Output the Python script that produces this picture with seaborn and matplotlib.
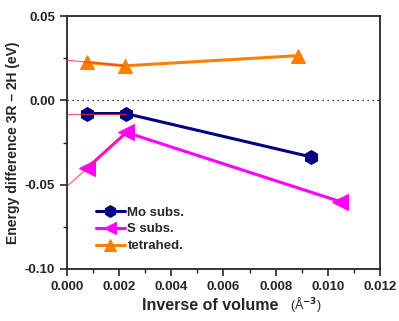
import matplotlib
matplotlib.use("Agg")
import matplotlib.pyplot as plt
import seaborn as sns
import pandas as pd
from matplotlib.ticker import MultipleLocator, FormatStrFormatter

# --- data ---
mo_x = [0.00078, 0.00225, 0.00935]
mo_y = [-0.0078, -0.0078, -0.0335]
s_x = [0.00078, 0.00228, 0.01047]
s_y = [-0.0400, -0.0190, -0.0600]
tet_x = [0.00078, 0.00222, 0.00885]
tet_y = [0.0225, 0.0205, 0.0265]
# thin red extrapolations to x = 0 (through the first two points)
fit_x0 = [0.0, 0.0, 0.0]
fit_y0 = [-0.0078, -0.0510, 0.0238]

series = [
    ("Mo subs.", mo_x, mo_y, "#000080", "h", 10),
    ("S subs.", s_x, s_y, "#FF00FF", "<", 11),
    ("tetrahed.", tet_x, tet_y, "#FF8000", "^", 10),
]

sns.set_style("ticks")
plt.rcParams["font.family"] = ["Liberation Sans", "DejaVu Sans"]
plt.rcParams["font.weight"] = "bold"

fig = plt.figure(figsize=(3.99, 3.21), dpi=100)
ax = fig.add_axes([0.168, 0.162, 0.784, 0.788])

ax.axhline(0, color="black", lw=0.9, ls=(0, (1, 3)), zorder=1)

for (name, xs, ys, col, mk, ms), x0, y0 in zip(series, fit_x0, fit_y0):
    df = pd.DataFrame({"x": xs, "y": ys})
    sns.lineplot(data=df, x="x", y="y", sort=False, color=col, lw=2.2,
                 marker=mk, markersize=ms, markeredgecolor=col,
                 label=name, ax=ax, zorder=3)
    ext = pd.DataFrame({"x": [x0, xs[1]], "y": [y0, ys[1]]})
    sns.lineplot(data=ext, x="x", y="y", sort=False, color="#FF3030",
                 lw=0.8, alpha=0.8, ax=ax, zorder=4, legend=False)

ax.set_xlim(0, 0.012)
ax.set_ylim(-0.10, 0.05)
ax.xaxis.set_major_locator(MultipleLocator(0.002))
ax.xaxis.set_minor_locator(MultipleLocator(0.001))
ax.yaxis.set_major_locator(MultipleLocator(0.05))
ax.yaxis.set_minor_locator(MultipleLocator(0.025))
ax.xaxis.set_major_formatter(FormatStrFormatter("%.3f"))
ax.yaxis.set_major_formatter(FormatStrFormatter("%.2f"))
ax.tick_params(which="major", direction="out", length=5, width=1.2,
               labelsize=9.5)
ax.tick_params(which="minor", direction="out", length=3, width=1.0)
for lab in ax.get_xticklabels() + ax.get_yticklabels():
    lab.set_fontweight("bold")
for sp in ax.spines.values():
    sp.set_visible(True)
    sp.set_linewidth(1.3)

ax.set_ylabel("Energy difference 3R \u2013 2H (eV)", fontsize=10,
              fontweight="bold")
ax.yaxis.set_label_coords(-0.15, 0.5)
ax.set_xlabel("Inverse of volume", fontsize=11.5, fontweight="bold")
ax.xaxis.set_label_coords(0.457, -0.115)
fig.text(0.727, 0.052, "(Å$^{-3}$)", fontsize=9, fontweight="normal",
         va="center", ha="left")

leg = ax.legend(loc="lower left", bbox_to_anchor=(0.075, 0.045), frameon=False,
                fontsize=9.5, handlelength=2.2, handletextpad=0.2,
                labelspacing=0.35, borderaxespad=0, markerscale=0.85)
for t in leg.get_texts():
    t.set_fontweight("bold")

fig.savefig("out.png", dpi=100)
